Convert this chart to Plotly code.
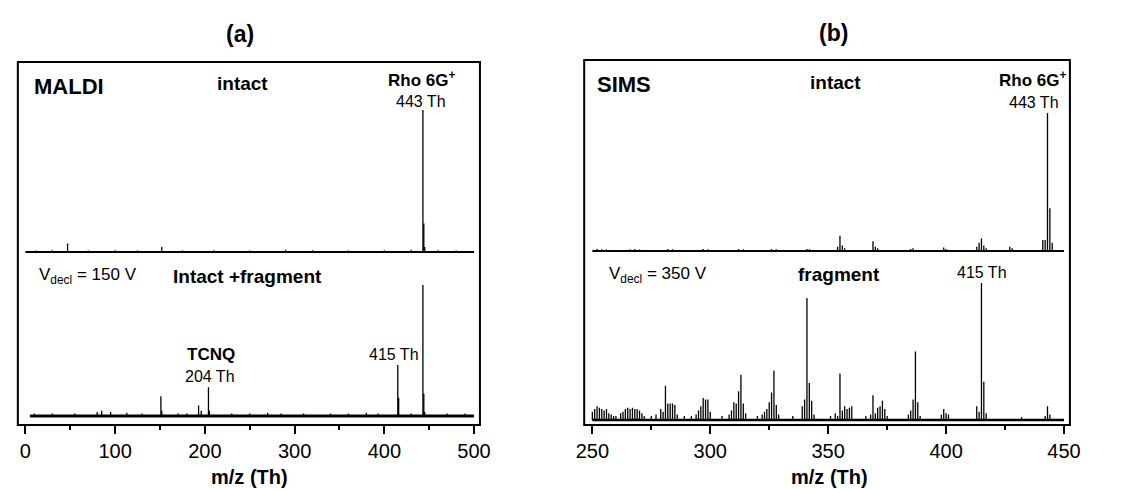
import plotly.graph_objects as go

W, H = 1134, 489

# ---------------- data ----------------
# Panel (a) MALDI, upper: intact (relative intensity, 443 = 100)
maldi_intact_mz = [12, 30, 47, 70, 100, 125, 152, 175, 210, 250, 290, 320, 360, 400, 430, 443, 444, 445, 460, 480]
maldi_intact_int = [1.0, 1.2, 6.0, 1.0, 1.2, 1.0, 3.5, 1.0, 1.2, 1.0, 1.5, 1.2, 1.0, 1.2, 1.5, 100, 20, 3.5, 1.2, 1.0]

# Panel (a) MALDI, lower: intact + fragment (443 = 100)
maldi_frag_mz = [10, 30, 55, 80, 85, 95, 113, 130, 151, 152, 170, 180, 193, 196, 204, 205,
                 230, 250, 270, 285, 310, 340, 360, 380, 393, 415, 416, 430, 443, 444, 445, 470, 490]
maldi_frag_int = [2, 2, 2, 3, 4, 3, 2.5, 2, 15, 4, 2, 2, 8, 4, 22, 4,
                  2, 2, 2.5, 2, 2, 2, 2, 2.5, 2, 39, 14, 2, 100, 17, 3, 2, 2]

# Panel (b) SIMS, upper: intact (443 = 100)
sims_intact_mz = [252, 254, 256, 266, 268, 270, 282, 284, 297, 299, 312, 314, 326, 328, 341, 342,
                  354, 355, 356, 357, 369, 370, 371, 385, 386, 399, 400, 413, 414, 415, 416, 417,
                  427, 428, 441, 442, 443, 444, 445]
sims_intact_int = [1.5, 1.2, 1.0, 1.2, 1.5, 1.0, 1.5, 1.2, 1.5, 1.2, 1.5, 1.2, 1.5, 1.2, 1.5, 1.2,
                   3, 11, 4, 2, 7, 3, 2, 1.5, 2, 2.5, 1.5, 3, 6, 9, 4, 2,
                   3, 2, 8, 8, 100, 31, 6]

# Panel (b) SIMS, lower: fragment (415 = 100)
sims_frag_mz = [250, 251, 252, 253, 254, 255, 256, 257, 258, 259, 260, 262, 263, 264, 265, 266, 267,
                268, 269, 270, 271, 272, 275, 277, 279, 280, 281, 282, 283, 284, 285, 286, 289,
                292, 294, 295, 296, 297, 298, 299, 300, 305, 308, 309, 310, 311, 312, 313, 314, 315,
                320, 322, 323, 324, 325, 326, 327, 328, 329, 335, 339, 340, 341, 342, 343, 344,
                351, 353, 354, 355, 356, 357, 358, 359, 360, 366, 368, 369, 370, 371, 372, 373, 374,
                375, 384, 385, 386, 387, 388, 389, 398, 399, 400, 401, 413, 414, 415, 416, 417,
                432, 442, 443, 444]
sims_frag_int = [6, 8, 10, 9, 8, 7, 8, 5, 4, 3, 3, 5, 6, 8, 9, 8, 9,
                 8, 8, 7, 5, 3, 3, 4, 8, 6, 25, 12, 12, 12, 11, 4, 3,
                 3, 4, 7, 10, 16, 15, 15, 6, 3, 4, 7, 13, 12, 21, 33, 12, 5,
                 3, 4, 6, 8, 13, 20, 36, 11, 4, 3, 10, 15, 89, 27, 14, 4,
                 3, 5, 3, 34, 7, 10, 8, 9, 10, 3, 4, 18, 5, 9, 10, 14, 8,
                 3, 4, 7, 15, 50, 13, 3, 4, 8, 5, 4, 10, 6, 100, 28, 5,
                 2, 3, 10, 4]

ticks_a = [0, 100, 200, 300, 400, 500]
ticks_b = [250, 300, 350, 400, 450]

# ---------------- helpers ----------------
def sx(x):
    return x / W

def sy(y):
    return 1 - y / H

def sticks(mz, inten):
    xs, ys = [], []
    for m, v in zip(mz, inten):
        xs += [m, m, None]
        ys += [0, v, None]
    return xs, ys

def yrange(dom_bottom_px, dom_top_px, base_px, px_per_unit):
    return [-(dom_bottom_px - base_px) / px_per_unit, (base_px - dom_top_px) / px_per_unit]

def xrange(box_l, box_r, t0_px, t1_px, v0, v1):
    k = (t1_px - t0_px) / (v1 - v0)
    return [v0 - (t0_px - box_l) / k, v1 + (box_r - t1_px) / k]

FONT = "Liberation Sans"
fig = go.Figure()

def add_spectrum(mz, inten, xa, ya, xmin, xmax, base_w):
    fig.add_trace(go.Scatter(x=[xmin, xmax], y=[0, 0], mode="lines", xaxis=xa, yaxis=ya,
                             line=dict(color="black", width=base_w), hoverinfo="skip", showlegend=False))
    xs, ys = sticks(mz, inten)
    fig.add_trace(go.Scatter(x=xs, y=ys, mode="lines", xaxis=xa, yaxis=ya,
                             line=dict(color="black", width=1.3), hoverinfo="skip", showlegend=False))

add_spectrum(maldi_frag_mz, maldi_frag_int, "x", "y", 5, 500, 3)
add_spectrum(maldi_intact_mz, maldi_intact_int, "x", "y2", 0, 500, 2)
add_spectrum(sims_frag_mz, sims_frag_int, "x2", "y3", 250, 450, 2.5)
add_spectrum(sims_intact_mz, sims_intact_int, "x2", "y4", 250, 450, 2)

# panel geometry (pixels)
A_L, A_R, A_T, A_B = 10, 480, 62, 425
B_L, B_R, B_T, B_B = 586, 1080, 60, 425
A_SPLIT, B_SPLIT = 258, 257

tickfont = dict(family=FONT, size=20, color="black")
common_x = dict(showgrid=False, zeroline=False, showline=False, ticks="outside", ticklen=8,
                tickwidth=2, tickcolor="black", tickfont=tickfont, fixedrange=True)
common_y = dict(visible=False, showgrid=False, zeroline=False, fixedrange=True)

fig.update_layout(
    width=W, height=H, margin=dict(l=0, r=0, t=0, b=0),
    paper_bgcolor="white", plot_bgcolor="white", showlegend=False,
    xaxis=dict(domain=[sx(A_L), sx(A_R)], range=xrange(A_L, A_R, 17.7, 474, 0, 500), anchor="y",
               tickvals=ticks_a, minor=dict(dtick=50, tick0=0, ticks="outside", ticklen=4,
                                             tickwidth=1.5, tickcolor="black"), **common_x),
    xaxis2=dict(domain=[sx(B_L), sx(B_R)], range=xrange(B_L, B_R, 594.3, 1074, 250, 450), anchor="y3",
                tickvals=ticks_b, minor=dict(dtick=25, tick0=250, ticks="outside", ticklen=4,
                                              tickwidth=1.5, tickcolor="black"), **common_x),
    yaxis=dict(domain=[sy(A_B), sy(A_SPLIT)], range=yrange(A_B, A_SPLIT, 416, 1.31), anchor="x", **common_y),
    yaxis2=dict(domain=[sy(A_SPLIT), sy(A_T)], range=yrange(A_SPLIT, A_T, 252, 1.42), anchor="x", **common_y),
    yaxis3=dict(domain=[sy(B_B), sy(B_SPLIT)], range=yrange(B_B, B_SPLIT, 420, 1.37), anchor="x2", **common_y),
    yaxis4=dict(domain=[sy(B_SPLIT), sy(B_T)], range=yrange(B_SPLIT, B_T, 251, 1.38), anchor="x2", **common_y),
)

for (l, r, t, b) in [(A_L, A_R, A_T, A_B), (B_L, B_R, B_T, B_B)]:
    fig.add_shape(type="rect", xref="paper", yref="paper", x0=sx(l), x1=sx(r), y0=sy(b), y1=sy(t),
                  line=dict(color="black", width=2), fillcolor="rgba(0,0,0,0)")

def ann(text, x, y, size, bold=False, xanchor="center"):
    t = f"<b>{text}</b>" if bold else text
    fig.add_annotation(text=t, x=sx(x), y=sy(y), xref="paper", yref="paper", showarrow=False,
                       xanchor=xanchor, yanchor="middle", font=dict(family=FONT, size=size, color="black"))

# panel (a)
ann("(a)", 236, 34, 23, True)
ann("MALDI", 24, 86, 22, True, "left")
ann("intact", 239, 83, 19, True)
ann("Rho 6G<sup>+</sup>", 421, 79, 17, True)
ann("443 Th", 420, 101, 16)
ann("V<sub>decl</sub> = 150 V", 30, 276, 17, False, "left")
ann("Intact +fragment", 244, 276, 19, True)
ann("TCNQ", 206, 354, 17, True)
ann("204 Th", 205, 376, 16)
ann("415 Th", 393, 354, 16)
ann("m/z (Th)", 246, 477, 20, True)

# panel (b)
ann("(b)", 840, 33, 23, True)
ann("SIMS", 597, 84, 22, True, "left")
ann("intact", 842, 82, 19, True)
ann("Rho 6G<sup>+</sup>", 1042, 79, 17, True)
ann("443 Th", 1043, 102, 16)
ann("V<sub>decl</sub> = 350 V", 609, 275, 17, False, "left")
ann("fragment", 845, 274, 19, True)
ann("415 Th", 991, 272, 16)
ann("m/z (Th)", 835, 477, 20, True)

fig.write_html("out.html", config={"displayModeBar": False},
               post_script="document.body.style.margin='0';document.body.style.overflow='hidden';")
